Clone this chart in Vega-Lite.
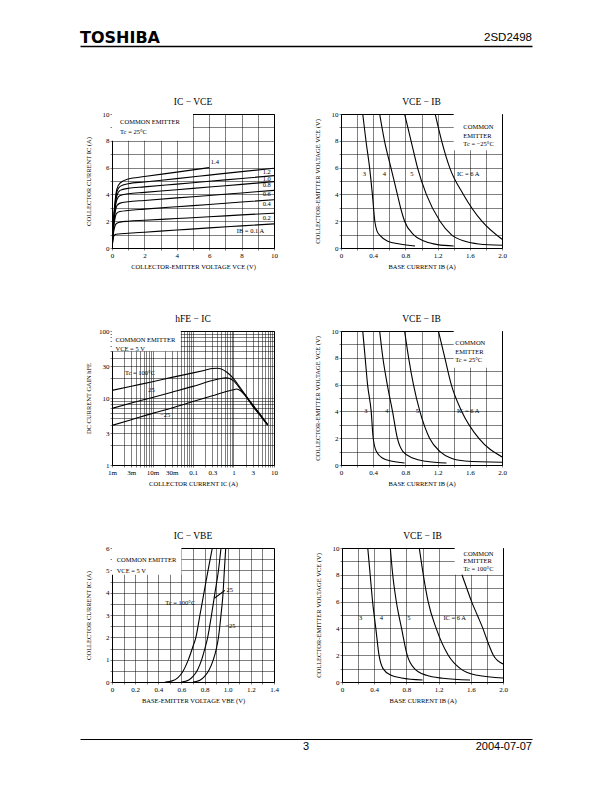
{
"$schema": "https://vega.github.io/schema/vega-lite/v6.json",
"padding": {"left": 80, "top": 30, "right": 10, "bottom": 10},
"background": "white",
"config": {
 "font": "Liberation Serif",
 "view": {"stroke": "black", "strokeWidth": 1},
 "axis": {"grid": true, "gridColor": "black", "gridWidth": 0.5, "gridOpacity": 1, "domain": false, "ticks": true, "tickSize": 2, "tickColor": "black", "tickWidth": 0.5, "labelFont": "Liberation Serif", "labelFontSize": 7, "labelColor": "black", "labelPadding": 1, "labelFlush": false, "labelOverlap": false, "titleFont": "Liberation Serif", "titleFontSize": 6.5, "titleFontWeight": "normal", "titleColor": "black"},
 "title": {"font": "Liberation Serif", "fontSize": 9.5, "fontWeight": "normal", "color": "black", "offset": 4, "frame": "group"},
 "text": {"font": "Liberation Serif", "fontSize": 6.5, "color": "black"},
 "line": {"color": "black"}
},
"datasets": {
 "p1b": [{"x": 0, "x2": 5, "y": 8, "y2": 10}],
 "p1l": [
  {"s":"0.1","x":0,"y":0},{"s":"0.1","x":0.05,"y":0.5},{"s":"0.1","x":0.1,"y":0.85},{"s":"0.1","x":0.2,"y":1.0},{"s":"0.1","x":0.4,"y":1.05},{"s":"0.1","x":1,"y":1.1},{"s":"0.1","x":2,"y":1.18},{"s":"0.1","x":4,"y":1.34},{"s":"0.1","x":6,"y":1.5},{"s":"0.1","x":8,"y":1.65},{"s":"0.1","x":10,"y":1.8},
  {"s":"0.2","x":0,"y":0},{"s":"0.2","x":0.1,"y":1.2},{"s":"0.2","x":0.2,"y":1.7},{"s":"0.2","x":0.3,"y":1.85},{"s":"0.2","x":0.5,"y":1.93},{"s":"0.2","x":1,"y":2.0},{"s":"0.2","x":2,"y":2.07},{"s":"0.2","x":4,"y":2.2},{"s":"0.2","x":6,"y":2.33},{"s":"0.2","x":8,"y":2.47},{"s":"0.2","x":10,"y":2.6},
  {"s":"0.4","x":0,"y":0},{"s":"0.4","x":0.1,"y":1.5},{"s":"0.4","x":0.2,"y":2.3},{"s":"0.4","x":0.3,"y":2.6},{"s":"0.4","x":0.5,"y":2.72},{"s":"0.4","x":1,"y":2.8},{"s":"0.4","x":2,"y":2.9},{"s":"0.4","x":4,"y":3.08},{"s":"0.4","x":6,"y":3.25},{"s":"0.4","x":8,"y":3.43},{"s":"0.4","x":10,"y":3.6},
  {"s":"0.6","x":0,"y":0},{"s":"0.6","x":0.1,"y":1.7},{"s":"0.6","x":0.2,"y":2.7},{"s":"0.6","x":0.3,"y":3.15},{"s":"0.6","x":0.5,"y":3.35},{"s":"0.6","x":1,"y":3.45},{"s":"0.6","x":2,"y":3.55},{"s":"0.6","x":4,"y":3.74},{"s":"0.6","x":6,"y":3.92},{"s":"0.6","x":8,"y":4.11},{"s":"0.6","x":10,"y":4.3},
  {"s":"0.8","x":0,"y":0},{"s":"0.8","x":0.1,"y":1.9},{"s":"0.8","x":0.2,"y":3.0},{"s":"0.8","x":0.3,"y":3.6},{"s":"0.8","x":0.5,"y":3.92},{"s":"0.8","x":1,"y":4.05},{"s":"0.8","x":2,"y":4.15},{"s":"0.8","x":4,"y":4.35},{"s":"0.8","x":6,"y":4.55},{"s":"0.8","x":8,"y":4.75},{"s":"0.8","x":10,"y":4.95},
  {"s":"1.0","x":0,"y":0},{"s":"1.0","x":0.1,"y":2.0},{"s":"1.0","x":0.2,"y":3.2},{"s":"1.0","x":0.3,"y":3.9},{"s":"1.0","x":0.5,"y":4.3},{"s":"1.0","x":1,"y":4.45},{"s":"1.0","x":2,"y":4.56},{"s":"1.0","x":4,"y":4.77},{"s":"1.0","x":6,"y":4.98},{"s":"1.0","x":8,"y":5.19},{"s":"1.0","x":10,"y":5.4},
  {"s":"1.2","x":0,"y":0},{"s":"1.2","x":0.1,"y":2.1},{"s":"1.2","x":0.2,"y":3.4},{"s":"1.2","x":0.3,"y":4.2},{"s":"1.2","x":0.5,"y":4.6},{"s":"1.2","x":1,"y":4.8},{"s":"1.2","x":2,"y":4.93},{"s":"1.2","x":4,"y":5.18},{"s":"1.2","x":6,"y":5.44},{"s":"1.2","x":8,"y":5.7},{"s":"1.2","x":10,"y":5.95},
  {"s":"1.4","x":0,"y":0},{"s":"1.4","x":0.1,"y":2.2},{"s":"1.4","x":0.2,"y":3.6},{"s":"1.4","x":0.3,"y":4.4},{"s":"1.4","x":0.5,"y":4.85},{"s":"1.4","x":1,"y":5.15},{"s":"1.4","x":2,"y":5.33},{"s":"1.4","x":4,"y":5.66},{"s":"1.4","x":6,"y":6.0}
 ],
 "p1t": [
  {"t":"COMMON EMITTER","x":0.5,"y":9.4},{"t":"Tc = 25°C","x":0.5,"y":8.65},
  {"t":"1.4","x":6.1,"y":6.4},{"t":"1.2","x":9.3,"y":5.65},{"t":"1.0","x":9.3,"y":5.18},{"t":"0.8","x":9.3,"y":4.68},{"t":"0.6","x":9.3,"y":4.0},{"t":"0.4","x":9.3,"y":3.3},{"t":"0.2","x":9.3,"y":2.25},{"t":"IB = 0.1 A","x":7.7,"y":1.25}
 ],
 "p2b": [{"x": 1.4, "x2": 2.0, "y": 7.3, "y2": 10}],
 "p2l": [
  {"s":"3","x":0.27,"y":10},{"s":"3","x":0.31,"y":8},{"s":"3","x":0.355,"y":6},{"s":"3","x":0.39,"y":4},{"s":"3","x":0.42,"y":2},{"s":"3","x":0.445,"y":1.3},{"s":"3","x":0.49,"y":0.9},{"s":"3","x":0.58,"y":0.5},{"s":"3","x":0.73,"y":0.3},{"s":"3","x":0.92,"y":0.15},
  {"s":"4","x":0.48,"y":10},{"s":"4","x":0.54,"y":8},{"s":"4","x":0.62,"y":6},{"s":"4","x":0.7,"y":4},{"s":"4","x":0.74,"y":3},{"s":"4","x":0.79,"y":2},{"s":"4","x":0.9,"y":1},{"s":"4","x":1.04,"y":0.5},{"s":"4","x":1.2,"y":0.25},{"s":"4","x":1.4,"y":0.15},
  {"s":"5","x":0.79,"y":10},{"s":"5","x":0.87,"y":8},{"s":"5","x":0.95,"y":6},{"s":"5","x":1.06,"y":4},{"s":"5","x":1.23,"y":2},{"s":"5","x":1.37,"y":1},{"s":"5","x":1.54,"y":0.5},{"s":"5","x":1.71,"y":0.3},{"s":"5","x":2.0,"y":0.2},
  {"s":"6","x":1.17,"y":10},{"s":"6","x":1.25,"y":8},{"s":"6","x":1.35,"y":6},{"s":"6","x":1.52,"y":4},{"s":"6","x":1.75,"y":2},{"s":"6","x":2.0,"y":0.65}
 ],
 "p2t": [
  {"t":"COMMON","x":1.52,"y":9.0},{"t":"EMITTER","x":1.52,"y":8.35},{"t":"Tc = −25°C","x":1.52,"y":7.75},
  {"t":"3","x":0.27,"y":5.5},{"t":"4","x":0.52,"y":5.5},{"t":"5","x":0.86,"y":5.5},{"t":"IC = 6 A","x":1.44,"y":5.5}
 ],
 "p3b": [{"x": 0.001, "x2": 0.05, "y": 50, "y2": 100}],
 "p3l": [
  {"s":"100","x":0.001,"y":13},{"s":"100","x":0.003,"y":15},{"s":"100","x":0.01,"y":17.5},{"s":"100","x":0.03,"y":20.3},{"s":"100","x":0.1,"y":23.7},{"s":"100","x":0.2,"y":26},{"s":"100","x":0.3,"y":27.5},{"s":"100","x":0.4,"y":27.8},{"s":"100","x":0.5,"y":27},{"s":"100","x":0.7,"y":24},{"s":"100","x":1,"y":19.5},{"s":"100","x":1.5,"y":14},{"s":"100","x":2,"y":11},{"s":"100","x":3,"y":7.9},{"s":"100","x":5,"y":5.3},{"s":"100","x":7,"y":4.0},
  {"s":"25","x":0.001,"y":7},{"s":"25","x":0.003,"y":8.4},{"s":"25","x":0.01,"y":10.2},{"s":"25","x":0.03,"y":12.2},{"s":"25","x":0.1,"y":14.9},{"s":"25","x":0.3,"y":18.2},{"s":"25","x":0.5,"y":19.6},{"s":"25","x":0.65,"y":20},{"s":"25","x":0.8,"y":19.5},{"s":"25","x":1,"y":18},{"s":"25","x":1.5,"y":13.5},{"s":"25","x":2,"y":10.8},{"s":"25","x":3,"y":7.7},{"s":"25","x":5,"y":5.2},{"s":"25","x":7,"y":4.0},
  {"s":"-25","x":0.001,"y":3.9},{"s":"-25","x":0.003,"y":4.74},{"s":"-25","x":0.01,"y":5.9},{"s":"-25","x":0.03,"y":7.1},{"s":"-25","x":0.1,"y":8.85},{"s":"-25","x":0.3,"y":10.8},{"s":"-25","x":0.7,"y":12.6},{"s":"-25","x":1,"y":13.3},{"s":"-25","x":1.2,"y":13.6},{"s":"-25","x":1.5,"y":12.8},{"s":"-25","x":2,"y":10.6},{"s":"-25","x":3,"y":7.5},{"s":"-25","x":5,"y":5.1},{"s":"-25","x":7,"y":3.9}
 ],
 "p3t": [
  {"t":"COMMON EMITTER","x":0.00122,"y":73},{"t":"VCE = 5 V","x":0.00122,"y":54},
  {"t":"Tc = 100°C","x":0.0021,"y":24},{"t":"25","x":0.0079,"y":13.3},{"t":"−25","x":0.0155,"y":5.5}
 ],
 "p4b": [{"x": 1.4, "x2": 2.0, "y": 7.25, "y2": 10}],
 "p4l": [
  {"s":"3","x":0.27,"y":10},{"s":"3","x":0.3,"y":8},{"s":"3","x":0.33,"y":6},{"s":"3","x":0.375,"y":4},{"s":"3","x":0.4,"y":2},{"s":"3","x":0.44,"y":1},{"s":"3","x":0.52,"y":0.5},{"s":"3","x":0.62,"y":0.3},{"s":"3","x":0.79,"y":0.15},
  {"s":"4","x":0.48,"y":10},{"s":"4","x":0.52,"y":8},{"s":"4","x":0.575,"y":6},{"s":"4","x":0.64,"y":4},{"s":"4","x":0.7,"y":2},{"s":"4","x":0.77,"y":1},{"s":"4","x":0.9,"y":0.5},{"s":"4","x":1.05,"y":0.28},{"s":"4","x":1.31,"y":0.15},
  {"s":"5","x":0.79,"y":10},{"s":"5","x":0.84,"y":8},{"s":"5","x":0.9,"y":6},{"s":"5","x":0.98,"y":4},{"s":"5","x":1.1,"y":2},{"s":"5","x":1.23,"y":1},{"s":"5","x":1.37,"y":0.5},{"s":"5","x":1.54,"y":0.3},{"s":"5","x":2.0,"y":0.2},
  {"s":"6","x":1.21,"y":10},{"s":"6","x":1.29,"y":8},{"s":"6","x":1.37,"y":6},{"s":"6","x":1.5,"y":4},{"s":"6","x":1.71,"y":2},{"s":"6","x":2.0,"y":0.6}
 ],
 "p4t": [
  {"t":"COMMON","x":1.42,"y":9.1},{"t":"EMITTER","x":1.42,"y":8.45},{"t":"Tc = 25°C","x":1.42,"y":7.8},
  {"t":"3","x":0.29,"y":4.0},{"t":"4","x":0.55,"y":4.0},{"t":"5","x":0.93,"y":4.0},{"t":"IC = 6 A","x":1.44,"y":4.0}
 ],
 "p5b": [{"x": 0, "x2": 0.6, "y": 4.8, "y2": 6}],
 "p5l": [
  {"s":"100","x":0.46,"y":0},{"s":"100","x":0.52,"y":0.05},{"s":"100","x":0.57,"y":0.2},{"s":"100","x":0.61,"y":0.45},{"s":"100","x":0.66,"y":1.0},{"s":"100","x":0.7,"y":1.6},{"s":"100","x":0.725,"y":2.0},{"s":"100","x":0.76,"y":3.0},{"s":"100","x":0.795,"y":4.0},{"s":"100","x":0.83,"y":5.0},{"s":"100","x":0.867,"y":6.0},
  {"s":"25","x":0.6,"y":0},{"s":"25","x":0.66,"y":0.08},{"s":"25","x":0.7,"y":0.25},{"s":"25","x":0.74,"y":0.55},{"s":"25","x":0.775,"y":1.0},{"s":"25","x":0.8,"y":1.45},{"s":"25","x":0.827,"y":2.0},{"s":"25","x":0.86,"y":3.0},{"s":"25","x":0.89,"y":4.0},{"s":"25","x":0.92,"y":5.0},{"s":"25","x":0.942,"y":6.0},
  {"s":"-25","x":0.7,"y":0},{"s":"-25","x":0.76,"y":0.08},{"s":"-25","x":0.8,"y":0.25},{"s":"-25","x":0.84,"y":0.55},{"s":"-25","x":0.876,"y":1.0},{"s":"-25","x":0.9,"y":1.45},{"s":"-25","x":0.92,"y":2.0},{"s":"-25","x":0.942,"y":3.0},{"s":"-25","x":0.96,"y":4.0},{"s":"-25","x":0.971,"y":5.0},{"s":"-25","x":0.983,"y":6.0},
  {"s":"lead","x":0.885,"y":3.75},{"s":"lead","x":0.975,"y":4.1}
 ],
 "p5t": [
  {"t":"COMMON EMITTER","x":0.04,"y":5.45},{"t":"VCE = 5 V","x":0.04,"y":4.98},
  {"t":"Tc = 100°C","x":0.46,"y":3.55},{"t":"25","x":0.99,"y":4.12},{"t":"−25","x":0.98,"y":2.5}
 ],
 "p6b": [{"x": 1.4, "x2": 2.0, "y": 8, "y2": 10}],
 "p6l": [
  {"s":"3","x":0.32,"y":10},{"s":"3","x":0.35,"y":8},{"s":"3","x":0.38,"y":6},{"s":"3","x":0.42,"y":4},{"s":"3","x":0.46,"y":2},{"s":"3","x":0.51,"y":1},{"s":"3","x":0.61,"y":0.5},{"s":"3","x":0.74,"y":0.3},{"s":"3","x":1.0,"y":0.15},
  {"s":"4","x":0.6,"y":10},{"s":"4","x":0.63,"y":8},{"s":"4","x":0.675,"y":6},{"s":"4","x":0.74,"y":4},{"s":"4","x":0.81,"y":2},{"s":"4","x":0.9,"y":1},{"s":"4","x":1.05,"y":0.5},{"s":"4","x":1.25,"y":0.28},{"s":"4","x":1.59,"y":0.15},
  {"s":"5","x":0.96,"y":10},{"s":"5","x":1.01,"y":8},{"s":"5","x":1.07,"y":6},{"s":"5","x":1.17,"y":4},{"s":"5","x":1.32,"y":2},{"s":"5","x":1.47,"y":1},{"s":"5","x":1.68,"y":0.5},{"s":"5","x":2.0,"y":0.3},
  {"s":"6","x":1.49,"y":8},{"s":"6","x":1.55,"y":7},{"s":"6","x":1.61,"y":6},{"s":"6","x":1.68,"y":5},{"s":"6","x":1.75,"y":4},{"s":"6","x":1.81,"y":3},{"s":"6","x":1.88,"y":2},{"s":"6","x":2.0,"y":1.35}
 ],
 "p6t": [
  {"t":"COMMON","x":1.51,"y":9.55},{"t":"EMITTER","x":1.51,"y":9.0},{"t":"Tc = 100°C","x":1.51,"y":8.45},
  {"t":"3","x":0.21,"y":4.8},{"t":"4","x":0.47,"y":4.8},{"t":"5","x":0.81,"y":4.8},{"t":"IC = 6 A","x":1.26,"y":4.8}
 ]
},
"spacing": 35,
"vconcat": [
 {"spacing": 50, "vconcat": [
  {"width": 420, "height": 16, "view": {"stroke": null},
   "encoding": {"x": {"field": "pos", "type": "nominal", "scale": {"type": "point", "domain": ["left", "mid", "right"], "range": [-32, 420], "padding": 0}, "axis": {"orient": "bottom", "labels": false, "ticks": false, "grid": false, "domain": true, "domainColor": "black", "domainWidth": 1.5, "title": null}}},
   "layer": [
    {"data": {"values": [{"t": "TOSHIBA", "pos": "left"}]}, "mark": {"type": "text", "align": "left", "baseline": "middle", "font": "DejaVu Sans", "fontWeight": "bold", "fontSize": 16, "color": "black"}, "encoding": {"text": {"field": "t", "type": "nominal"}}},
    {"data": {"values": [{"t": "2SD2498", "pos": "right"}]}, "mark": {"type": "text", "align": "right", "baseline": "middle", "font": "Liberation Sans", "fontSize": 11.5, "color": "black"}, "encoding": {"text": {"field": "t", "type": "nominal"}}}
   ]},
  {"spacing": 43, "vconcat": [
   {"spacing": 35, "hconcat": [
    {"width": 162, "height": 134, "title": "IC − VCE",
     "encoding": {
      "x": {"field": "x", "type": "quantitative", "scale": {"domain": [0, 10], "nice": false}, "axis": {"title": "COLLECTOR-EMITTER VOLTAGE   VCE   (V)", "values": [0,1,2,3,4,5,6,7,8,9,10], "labelExpr": "datum.value % 2 === 0 ? datum.label : ''", "titlePadding": 5}},
      "y": {"field": "y", "type": "quantitative", "scale": {"domain": [0, 10], "nice": false}, "axis": {"title": "COLLECTOR CURRENT   IC   (A)", "values": [0,1,2,3,4,5,6,7,8,9,10], "labelExpr": "datum.value % 2 === 0 ? datum.label : ''", "titlePadding": 11}}},
     "layer": [
      {"data": {"name": "p1b"}, "mark": {"type": "rect", "fill": "white"}, "encoding": {"x2": {"field": "x2"}, "y2": {"field": "y2"}}},
      {"data": {"name": "p1l"}, "mark": {"type": "line", "interpolate": "monotone", "strokeWidth": 1.1, "clip": true}, "encoding": {"detail": {"field": "s", "type": "nominal"}}},
      {"data": {"name": "p1t"}, "mark": {"type": "text", "align": "left", "baseline": "middle"}, "encoding": {"text": {"field": "t", "type": "nominal"}}}
     ]},
    {"width": 161, "height": 134, "title": "VCE − IB",
     "encoding": {
      "x": {"field": "x", "type": "quantitative", "scale": {"domain": [0, 2], "nice": false}, "axis": {"title": "BASE CURRENT   IB   (A)", "values": [0,0.2,0.4,0.6,0.8,1,1.2,1.4,1.6,1.8,2], "labelExpr": "round(datum.value*10) % 4 === 0 ? (datum.value === 0 ? '0' : format(datum.value, '.1f')) : ''", "titlePadding": 5}},
      "y": {"field": "y", "type": "quantitative", "scale": {"domain": [0, 10], "nice": false}, "axis": {"title": "COLLECTOR-EMITTER VOLTAGE   VCE   (V)", "values": [0,1,2,3,4,5,6,7,8,9,10], "labelExpr": "datum.value % 2 === 0 ? datum.label : ''", "titlePadding": 11}}},
     "layer": [
      {"data": {"name": "p2b"}, "mark": {"type": "rect", "fill": "white"}, "encoding": {"x2": {"field": "x2"}, "y2": {"field": "y2"}}},
      {"data": {"name": "p2l"}, "mark": {"type": "line", "interpolate": "monotone", "strokeWidth": 1.1, "clip": true}, "encoding": {"detail": {"field": "s", "type": "nominal"}}},
      {"data": {"name": "p2t"}, "mark": {"type": "text", "align": "left", "baseline": "middle"}, "encoding": {"text": {"field": "t", "type": "nominal"}}}
     ]}
   ]},
   {"spacing": 35, "hconcat": [
    {"width": 162, "height": 134, "title": "hFE − IC",
     "encoding": {
      "x": {"field": "x", "type": "quantitative", "scale": {"type": "log", "domain": [0.001, 10], "nice": false}, "axis": {"title": "COLLECTOR CURRENT   IC   (A)", "values": [0.001,0.002,0.003,0.004,0.005,0.006,0.007,0.008,0.009,0.01,0.02,0.03,0.04,0.05,0.06,0.07,0.08,0.09,0.1,0.2,0.3,0.4,0.5,0.6,0.7,0.8,0.9,1,2,3,4,5,6,7,8,9,10], "labelExpr": "datum.value == 0.001 ? '1m' : datum.value == 0.003 ? '3m' : datum.value == 0.01 ? '10m' : datum.value == 0.03 ? '30m' : datum.value == 0.1 ? '0.1' : datum.value == 0.3 ? '0.3' : datum.value == 1 ? '1' : datum.value == 3 ? '3' : datum.value == 10 ? '10' : ''", "titlePadding": 5}},
      "y": {"field": "y", "type": "quantitative", "scale": {"type": "log", "domain": [1, 100], "nice": false}, "axis": {"title": "DC CURRENT GAIN   hFE", "values": [1,2,3,4,5,6,7,8,9,10,20,30,40,50,60,70,80,90,100], "labelExpr": "indexof([1,3,10,30,100], datum.value) >= 0 ? format(datum.value, 'd') : ''", "titlePadding": 7}}},
     "layer": [
      {"data": {"name": "p3b"}, "mark": {"type": "rect", "fill": "white"}, "encoding": {"x2": {"field": "x2"}, "y2": {"field": "y2"}}},
      {"data": {"name": "p3l"}, "mark": {"type": "line", "interpolate": "monotone", "strokeWidth": 1.1, "clip": true}, "encoding": {"detail": {"field": "s", "type": "nominal"}}},
      {"data": {"name": "p3t"}, "mark": {"type": "text", "align": "left", "baseline": "middle"}, "encoding": {"text": {"field": "t", "type": "nominal"}}}
     ]},
    {"width": 161, "height": 134, "title": "VCE − IB",
     "encoding": {
      "x": {"field": "x", "type": "quantitative", "scale": {"domain": [0, 2], "nice": false}, "axis": {"title": "BASE CURRENT   IB   (A)", "values": [0,0.2,0.4,0.6,0.8,1,1.2,1.4,1.6,1.8,2], "labelExpr": "round(datum.value*10) % 4 === 0 ? (datum.value === 0 ? '0' : format(datum.value, '.1f')) : ''", "titlePadding": 5}},
      "y": {"field": "y", "type": "quantitative", "scale": {"domain": [0, 10], "nice": false}, "axis": {"title": "COLLECTOR-EMITTER VOLTAGE   VCE   (V)", "values": [0,1,2,3,4,5,6,7,8,9,10], "labelExpr": "datum.value % 2 === 0 ? datum.label : ''", "titlePadding": 11}}},
     "layer": [
      {"data": {"name": "p4b"}, "mark": {"type": "rect", "fill": "white"}, "encoding": {"x2": {"field": "x2"}, "y2": {"field": "y2"}}},
      {"data": {"name": "p4l"}, "mark": {"type": "line", "interpolate": "monotone", "strokeWidth": 1.1, "clip": true}, "encoding": {"detail": {"field": "s", "type": "nominal"}}},
      {"data": {"name": "p4t"}, "mark": {"type": "text", "align": "left", "baseline": "middle"}, "encoding": {"text": {"field": "t", "type": "nominal"}}}
     ]}
   ]},
   {"spacing": 35, "hconcat": [
    {"width": 162, "height": 134, "title": "IC − VBE",
     "encoding": {
      "x": {"field": "x", "type": "quantitative", "scale": {"domain": [0, 1.4], "nice": false}, "axis": {"title": "BASE-EMITTER VOLTAGE   VBE   (V)", "values": [0,0.1,0.2,0.3,0.4,0.5,0.6,0.7,0.8,0.9,1,1.1,1.2,1.3,1.4], "labelExpr": "round(datum.value*10) % 2 === 0 ? (datum.value === 0 ? '0' : format(datum.value, '.1f')) : ''", "titlePadding": 5}},
      "y": {"field": "y", "type": "quantitative", "scale": {"domain": [0, 6], "nice": false}, "axis": {"title": "COLLECTOR CURRENT   IC   (A)", "values": [0,0.5,1,1.5,2,2.5,3,3.5,4,4.5,5,5.5,6], "labelExpr": "datum.value % 1 === 0 ? format(datum.value, 'd') : ''", "titlePadding": 14}}},
     "layer": [
      {"data": {"name": "p5b"}, "mark": {"type": "rect", "fill": "white"}, "encoding": {"x2": {"field": "x2"}, "y2": {"field": "y2"}}},
      {"data": {"name": "p5l"}, "mark": {"type": "line", "interpolate": "monotone", "strokeWidth": 1.1, "clip": true}, "encoding": {"detail": {"field": "s", "type": "nominal"}}},
      {"data": {"name": "p5t"}, "mark": {"type": "text", "align": "left", "baseline": "middle"}, "encoding": {"text": {"field": "t", "type": "nominal"}}}
     ]},
    {"width": 161, "height": 134, "title": "VCE − IB",
     "encoding": {
      "x": {"field": "x", "type": "quantitative", "scale": {"domain": [0, 2], "nice": false}, "axis": {"title": "BASE CURRENT   IB   (A)", "values": [0,0.2,0.4,0.6,0.8,1,1.2,1.4,1.6,1.8,2], "labelExpr": "round(datum.value*10) % 4 === 0 ? (datum.value === 0 ? '0' : format(datum.value, '.1f')) : ''", "titlePadding": 5}},
      "y": {"field": "y", "type": "quantitative", "scale": {"domain": [0, 10], "nice": false}, "axis": {"title": "COLLECTOR-EMITTER VOLTAGE   VCE   (V)", "values": [0,1,2,3,4,5,6,7,8,9,10], "labelExpr": "datum.value % 2 === 0 ? datum.label : ''", "titlePadding": 11}}},
     "layer": [
      {"data": {"name": "p6b"}, "mark": {"type": "rect", "fill": "white"}, "encoding": {"x2": {"field": "x2"}, "y2": {"field": "y2"}}},
      {"data": {"name": "p6l"}, "mark": {"type": "line", "interpolate": "monotone", "strokeWidth": 1.1, "clip": true}, "encoding": {"detail": {"field": "s", "type": "nominal"}}},
      {"data": {"name": "p6t"}, "mark": {"type": "text", "align": "left", "baseline": "middle"}, "encoding": {"text": {"field": "t", "type": "nominal"}}}
     ]}
   ]}
  ]}
 ]},
 {"width": 420, "height": 16, "view": {"stroke": null},
  "encoding": {"x": {"field": "pos", "type": "nominal", "scale": {"type": "point", "domain": ["left", "mid", "right"], "range": [-32, 420], "padding": 0}, "axis": {"orient": "top", "labels": false, "ticks": false, "grid": false, "domain": true, "domainColor": "black", "domainWidth": 1, "title": null}}},
  "layer": [
   {"data": {"values": [{"t": "3", "pos": "mid"}]}, "mark": {"type": "text", "align": "center", "baseline": "middle", "font": "Liberation Sans", "fontSize": 11, "color": "black"}, "encoding": {"text": {"field": "t", "type": "nominal"}}},
   {"data": {"values": [{"t": "2004-07-07", "pos": "right"}]}, "mark": {"type": "text", "align": "right", "baseline": "middle", "font": "Liberation Sans", "fontSize": 11, "color": "black"}, "encoding": {"text": {"field": "t", "type": "nominal"}}}
  ]}
]
}
